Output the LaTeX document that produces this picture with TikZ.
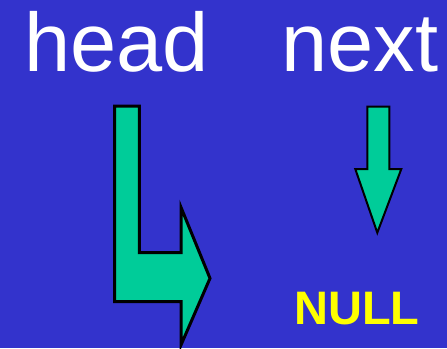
\documentclass[tikz,border=0pt]{standalone}
\usepackage{fontspec}
\setmainfont{Liberation Sans}
\definecolor{bg}{HTML}{3333CC}
\definecolor{arrowgreen}{HTML}{00CC99}
\definecolor{nullyellow}{HTML}{FFFF00}
\begin{document}
\begin{tikzpicture}[x=1pt,y=-1pt,
  label/.style={text=white,font=\fontsize{83}{83}\selectfont,inner sep=0pt,anchor=base},
  nulltext/.style={text=nullyellow,font=\fontsize{47}{47}\selectfont\bfseries,inner sep=0pt,anchor=base},
  bigarrow/.style={fill=arrowgreen,draw=black,line width=3pt,line join=miter},
  smallarrow/.style={fill=arrowgreen,draw=black,line width=2pt,line join=miter}]
\fill[bg] (0,0) rectangle (447,348);
\useasboundingbox (0,0) rectangle (447,348);
\node[label] (head) at (116.5,71.7) {head};
\node[label] (next) at (359.7,71.7) {next};
\node[nulltext] (null) at (357,324) {NULL};
\draw[bigarrow] (114.7,106) -- (139.3,106) -- (139.3,252.7) -- (181,252.7) -- (181,207.3)
  -- (210,278.3) -- (181,345) -- (181,301.7) -- (114.7,301.7) -- cycle;
\draw[smallarrow] (367.3,106.7) -- (389.3,106.7) -- (389.3,169) -- (401.3,169)
  -- (377.3,232.7) -- (355.3,169) -- (367.3,169) -- cycle;
\end{tikzpicture}
\end{document}
